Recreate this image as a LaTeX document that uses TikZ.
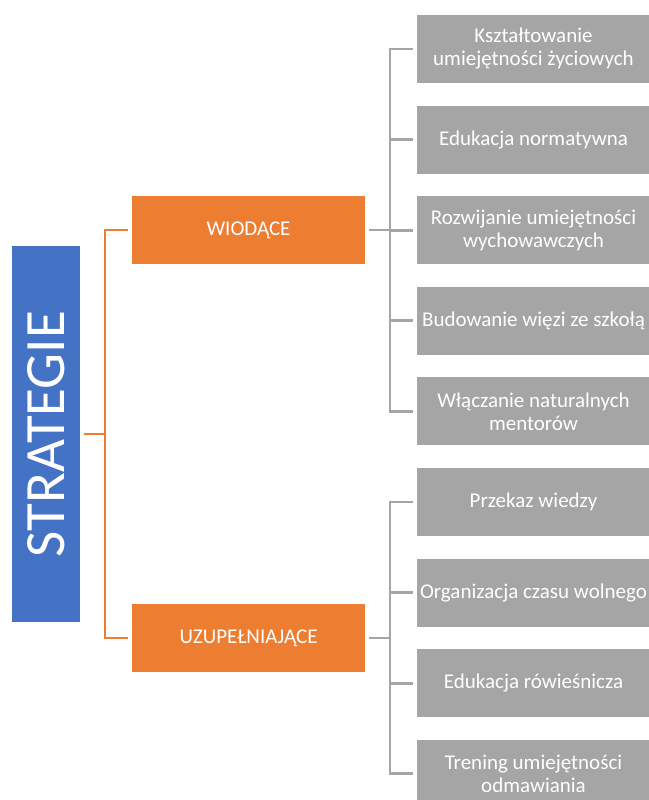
\documentclass[tikz,border=0pt]{standalone}
\usepackage{fontspec}
\setmainfont{Carlito}
\usetikzlibrary{positioning, calc}
\definecolor{stratblue}{HTML}{4472C4}
\definecolor{levelorange}{HTML}{ED7D31}
\definecolor{itemgray}{HTML}{A5A5A5}
\tikzstyle{strat} = [rectangle, rotate=90, minimum width=376pt, minimum height=68pt, inner sep=0pt, outer sep=4pt, fill=stratblue, text=white, font=\fontsize{57}{60}\selectfont]
\tikzstyle{level} = [rectangle, minimum width=233pt, minimum height=68pt, inner sep=0pt, outer xsep=4pt, outer ysep=0pt, fill=levelorange, text=white, font=\fontsize{21}{23}\selectfont]
\tikzstyle{item} = [rectangle, align=center, minimum width=233pt, minimum height=68pt, inner sep=0pt, outer xsep=4pt, outer ysep=0pt, fill=itemgray, text=white, font=\fontsize{21}{23}\selectfont]
\tikzstyle{orangeline} = [draw=levelorange, line width=2.8pt]
\tikzstyle{grayline} = [draw=itemgray, line width=2.8pt]

\begin{document}
\begin{tikzpicture}[x=1pt, y=1pt, node distance=22.6pt]
\useasboundingbox (0,0) rectangle (648,800);
% main box and the two levels
\node (strategie)[strat] at (46,366) {STRATEGIE};
\node (wiod)[level] at (248.5,570) {WIODĄCE};
\node (uzup)[level] at (248.5,162) {UZUPEŁNIAJĄCE};
% items
\node (ksztalt)[item] at (533.5,751) {Kształtowanie\\umiejętności życiowych};
\node (norm)[item, below=of ksztalt] {Edukacja normatywna};
\node (wych)[item, below=of norm] {Rozwijanie umiejętności\\wychowawczych};
\node (szkola)[item, below=of wych] {Budowanie więzi ze szkołą};
\node (mentor)[item, below=of szkola] {Włączanie naturalnych\\mentorów};
\node (wiedza)[item, below=of mentor] {Przekaz wiedzy};
\node (wolny)[item, below=of wiedza] {Organizacja czasu wolnego};
\node (rowies)[item, below=of wolny] {Edukacja rówieśnicza};
\node (odmaw)[item, below=of rowies] {Trening umiejętności\\odmawiania};

\draw [orangeline] (strategie.south) -- ++(21,0) |- (wiod.west);
\draw [orangeline] (strategie.south) -- ++(21,0) |- (uzup.west);

\draw [grayline] (wiod.east) -- ++(21,0) |- (ksztalt.west);
\draw [grayline] (wiod.east) -- ++(21,0) |- (norm.west);
\draw [grayline] (wiod.east) -- ++(21,0) |- (wych.west);
\draw [grayline] (wiod.east) -- ++(21,0) |- (szkola.west);
\draw [grayline] (wiod.east) -- ++(21,0) |- (mentor.west);

\draw [grayline] (uzup.east) -- ++(21,0) |- (wiedza.west);
\draw [grayline] (uzup.east) -- ++(21,0) |- (wolny.west);
\draw [grayline] (uzup.east) -- ++(21,0) |- (rowies.west);
\draw [grayline] (uzup.east) -- ++(21,0) |- (odmaw.west);
\end{tikzpicture}
\end{document}
